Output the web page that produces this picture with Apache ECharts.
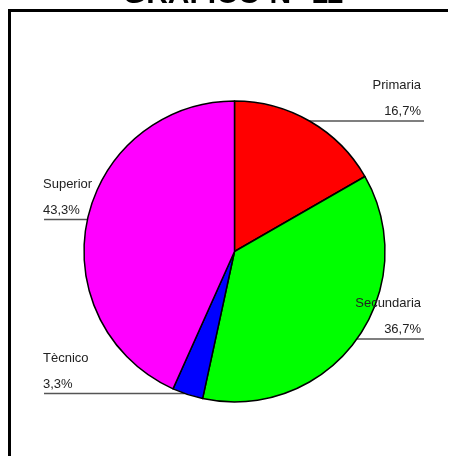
<!DOCTYPE html>
<html>
<head>
<meta charset="utf-8">
<title>GRAFICO N° 11</title>
<script src="https://cdn.jsdelivr.net/npm/echarts@6/dist/echarts.min.js"></script>
<style>
  html, body { margin: 0; padding: 0; background: #fff; }
  #chart { width: 450px; height: 456px; }
</style>
</head>
<body>
<div id="chart"></div>
<script>
// Distribution by education level (percent of respondents)
const CATEGORIES = ['Primaria', 'Secundaria', 'Tècnico', 'Superior'];
const PERCENTS = [16.7, 36.7, 3.3, 43.3];
const COLORS = ['#ff0000', '#00ff00', '#0000ff', '#ff00ff'];
const TITLE = 'GRAFICO N° 11';

// Pie geometry (pixels)
const CX = 234.5, CY = 251.5, R = 150.5;

// Where each label sits: which side, and the y of its underline
const LABEL_SLOTS = [
  { side: 'right', lineY: 121 },
  { side: 'right', lineY: 339 },
  { side: 'left', lineY: 393.5 },
  { side: 'left', lineY: 219.5 }
];
const RIGHT_TEXT_X = 421, RIGHT_LINE_END = 424;
const LEFT_TEXT_X = 43, LEFT_LINE_END = 44;

const FONT = '"Liberation Sans", Arial, Helvetica, sans-serif';

const fmtPct = v => v.toFixed(1).replace('.', ',') + '%';

const chart = echarts.init(document.getElementById('chart'), null, { renderer: 'canvas' });

chart.setOption({
  animation: false,
  backgroundColor: '#ffffff',
  graphic: [
    {
      type: 'text',
      x: 233,
      y: 9.5,
      style: {
        text: TITLE,
        font: 'bold 30px ' + FONT,
        fill: '#000',
        align: 'center',
        verticalAlign: 'bottom'
      }
    },
    {
      type: 'polyline',
      shape: { points: [[448, 10.5], [9.5, 10.5], [9.5, 470]] },
      style: { stroke: '#000', lineWidth: 3, fill: null }
    }
  ],
  series: [{
    type: 'pie',
    center: [CX, CY],
    radius: [0, R],
    startAngle: 90,
    clockwise: true,
    avoidLabelOverlap: false,
    data: CATEGORIES.map((name, i) => ({
      name,
      value: PERCENTS[i],
      itemStyle: { color: COLORS[i] }
    })),
    itemStyle: { borderColor: '#000', borderWidth: 1.5 },
    emphasis: { disabled: true },
    label: {
      show: true,
      position: 'outer',
      formatter: p => '{n|' + p.name + '}\n{v|' + fmtPct(p.value) + '}',
      color: '#222',
      fontFamily: FONT,
      fontSize: 13,
      rich: {
        n: { fontFamily: FONT, fontSize: 13, lineHeight: 32, color: '#222' },
        v: { fontFamily: FONT, fontSize: 13, lineHeight: 20, color: '#222' }
      }
    },
    labelLine: {
      show: true,
      lineStyle: { color: '#555', width: 1.5 }
    },
    labelLayout: params => {
      const slot = LABEL_SLOTS[params.dataIndex];
      const y = slot.lineY;
      const dy = y - CY;
      const half = Math.sqrt(Math.max(0, R * R - dy * dy));
      const right = slot.side === 'right';
      const edgeX = right ? CX + half : CX - half;
      const endX = right ? RIGHT_LINE_END : LEFT_LINE_END;
      return {
        x: right ? RIGHT_TEXT_X : LEFT_TEXT_X,
        y: y + 0.5,
        align: right ? 'right' : 'left',
        verticalAlign: 'bottom',
        labelLinePoints: [[edgeX, y], [(edgeX + endX) / 2, y], [endX, y]]
      };
    }
  }]
});
</script>
</body>
</html>
